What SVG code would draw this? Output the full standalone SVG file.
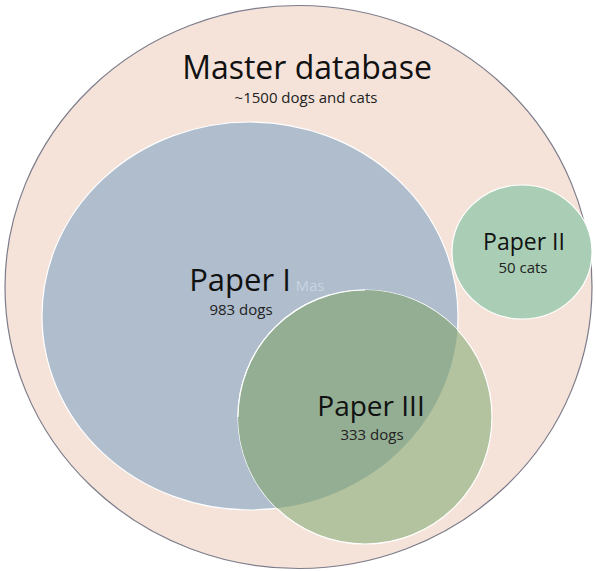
<svg xmlns="http://www.w3.org/2000/svg" width="596" height="571" viewBox="0 0 596 571">
  <defs>
    <clipPath id="clip-paper1">
      <ellipse cx="250" cy="316" rx="208" ry="194"/>
    </clipPath>
    <style>
      text { font-family: "Open Sans", "Liberation Sans", sans-serif; fill: #111; text-anchor: middle; }
      .sub { font-size: 15px; fill: #222; }
      .inner { stroke: #ffffff; stroke-width: 1.2; }
    </style>
  </defs>
  <rect width="596" height="571" fill="#ffffff"/>

  <!-- Master database -->
  <g id="master">
    <ellipse cx="298.5" cy="287" rx="293.5" ry="281.5" fill="#F5E3DA" stroke="#7C7C8A" stroke-width="1.2"/>
    <text x="307" y="79" style="font-size:32px">Master database</text>
    <text class="sub" x="306" y="103">~1500 dogs and cats</text>
  </g>

  <!-- Paper I -->
  <g id="paper1">
    <ellipse class="inner" cx="250" cy="316" rx="208" ry="194" fill="#AFBDCD"/>
    <text x="240" y="291" style="font-size:31px">Paper I</text>
    <text class="sub" x="241" y="315">983 dogs</text>
    <text x="310" y="291" style="font-size:15px; fill:#C9D4E1">Mas</text>
  </g>

  <!-- Paper II -->
  <g id="paper2">
    <ellipse class="inner" cx="522" cy="252" rx="70" ry="67" fill="#A9CEB5"/>
    <text x="524" y="250" style="font-size:23px">Paper II</text>
    <text class="sub" x="523" y="273">50 cats</text>
  </g>

  <!-- Paper III, darker where it overlaps Paper I -->
  <g id="paper3">
    <circle class="inner" cx="365" cy="417" r="127" fill="#B3C39F"/>
    <circle cx="365" cy="417" r="127" fill="#93AE93" clip-path="url(#clip-paper1)"/>
    <path d="M 365 290 A 127 127 0 0 0 238 417" fill="none" stroke="#ffffff" stroke-width="1.2" clip-path="url(#clip-paper1)"/>
    <text x="371" y="416" style="font-size:28px">Paper III</text>
    <text class="sub" x="372" y="440">333 dogs</text>
  </g>
</svg>
